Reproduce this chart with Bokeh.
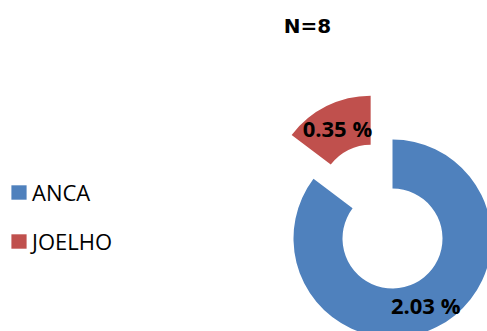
import math

from bokeh.core.properties import value
from bokeh.embed import file_html
from bokeh.models import ColumnDataSource, Label, Legend, LegendItem
from bokeh.plotting import figure
from bokeh.resources import INLINE

# Data
categories = ["ANCA", "JOELHO"]
percentages = [2.03, 0.35]
colors = ["#4F81BD", "#C0504D"]
explode_px = [0, 49]
title_text = "N=8"

# Layout (1 data unit == 1 screen pixel)
W, H = 487, 331
CX, CY = 392, 93
R_OUT, R_IN = 99, 50

total = sum(percentages)
starts, ends, xs, ys, lxs, lys, labels = [], [], [], [], [], [], []
acc = 0.0
for v, off in zip(percentages, explode_px):
    a0 = math.pi / 2 - 2 * math.pi * acc / total
    acc += v
    a1 = math.pi / 2 - 2 * math.pi * acc / total
    mid = (a0 + a1) / 2
    x = CX + off * math.cos(mid)
    y = CY + off * math.sin(mid)
    r_mid = (R_OUT + R_IN) / 2
    starts.append(a0)
    ends.append(a1)
    xs.append(x)
    ys.append(y)
    lxs.append(x + r_mid * math.cos(mid))
    lys.append(y + r_mid * math.sin(mid))
    labels.append(f"{v:.2f} %")

src = ColumnDataSource(dict(category=categories, value=percentages, color=colors,
                            start=starts, end=ends, x=xs, y=ys,
                            lx=lxs, ly=lys, label=labels))

p = figure(width=W, height=H, x_range=(0, W), y_range=(0, H),
           x_axis_location=None, y_axis_location=None,
           toolbar_location=None, output_backend="svg", min_border=0)
p.grid.visible = False
p.outline_line_color = None
p.background_fill_color = "white"

wedges = p.annular_wedge(x="x", y="y", inner_radius=R_IN, outer_radius=R_OUT,
                         start_angle="start", end_angle="end", direction="clock",
                         fill_color="color", line_color=None, source=src)

p.text(x="lx", y="ly", text="label", source=src,
       text_font=value("Open Sans"), text_font_style="bold",
       text_font_size="22px", text_align="center", text_baseline="middle",
       text_color="black")

p.add_layout(Label(x=307, y=306, text=title_text, text_font="DejaVu Sans",
                   text_font_style="bold", text_font_size="20px",
                   text_align="center", text_baseline="middle",
                   text_color="black"))

# legend swatches are drawn inset by 10% of the glyph box
legend = Legend(items=[LegendItem(label=c, renderers=[wedges], index=i)
                       for i, c in enumerate(categories)],
                location=(9, 75), orientation="vertical",
                glyph_width=19, glyph_height=18, label_standoff=4,
                spacing=19, padding=0, margin=0,
                label_text_font="Open Sans", label_text_font_size="22px",
                label_text_color="black",
                border_line_color=None, background_fill_alpha=0)
p.add_layout(legend)

open("out.html", "w").write(file_html(p, INLINE))
